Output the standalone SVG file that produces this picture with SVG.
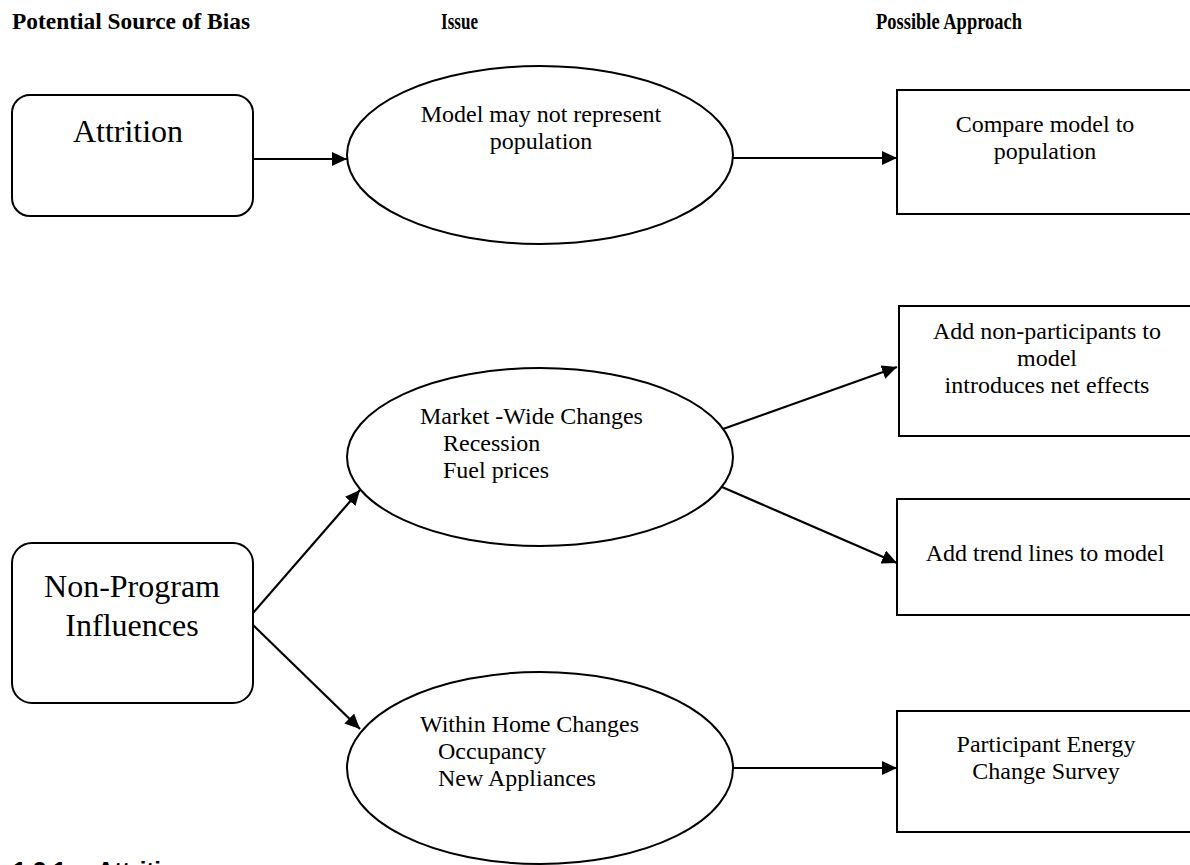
<svg xmlns="http://www.w3.org/2000/svg" width="1190" height="865" viewBox="0 0 1190 865">
<style>
  .hdr { font-family: "Liberation Serif", "Times New Roman", serif; font-weight: bold; font-size: 24px; fill: #000; }
  .big { font-family: "Liberation Serif", "Times New Roman", serif; font-size: 32px; fill: #000; }
  .txt { font-family: "Liberation Serif", "Times New Roman", serif; font-size: 24px; fill: #000; }
  .sec { font-family: "Liberation Sans", Arial, sans-serif; font-weight: bold; font-size: 24px; fill: #000; }
  .shape { fill: #fff; stroke: #000; stroke-width: 2; }
  .conn { stroke: #000; stroke-width: 2.2; fill: none; marker-end: url(#arr); }
</style>
<defs>
  <marker id="arr" markerUnits="userSpaceOnUse" markerWidth="16" markerHeight="14" refX="15" refY="7" orient="auto">
    <path d="M0,0 L15,7 L0,14 Z" fill="#000"/>
  </marker>
</defs>
<rect width="1190" height="865" fill="#fff"/>

<g id="headers">
  <text class="hdr" x="12" y="29" textLength="238" lengthAdjust="spacingAndGlyphs">Potential Source of Bias</text>
  <text class="hdr" x="441" y="29" textLength="37" lengthAdjust="spacingAndGlyphs">Issue</text>
  <text class="hdr" x="876" y="29" textLength="146" lengthAdjust="spacingAndGlyphs">Possible Approach</text>
</g>

<g id="connectors">
  <line class="conn" x1="253" y1="159" x2="347" y2="159"/>
  <line class="conn" x1="733" y1="158" x2="897" y2="158"/>
  <line class="conn" x1="253" y1="613" x2="360" y2="490"/>
  <line class="conn" x1="253" y1="625" x2="360" y2="729"/>
  <line class="conn" x1="723" y1="429" x2="897" y2="367"/>
  <line class="conn" x1="722" y1="487" x2="897" y2="563"/>
  <line class="conn" x1="733" y1="768" x2="897" y2="768"/>
</g>

<g id="attrition">
  <rect class="shape" x="12" y="95" width="241" height="121" rx="18"/>
  <text class="big" x="128" y="142" text-anchor="middle">Attrition</text>
</g>

<g id="non-program">
  <rect class="shape" x="12" y="543" width="241" height="160" rx="20"/>
  <text class="big" x="132" y="597" text-anchor="middle">Non-Program</text>
  <text class="big" x="132" y="636" text-anchor="middle">Influences</text>
</g>

<g id="issue-model">
  <ellipse class="shape" cx="540" cy="155" rx="193" ry="89"/>
  <text class="txt" x="541" y="122" text-anchor="middle">Model may not represent</text>
  <text class="txt" x="541" y="149" text-anchor="middle">population</text>
</g>

<g id="issue-market">
  <ellipse class="shape" cx="540" cy="457" rx="193" ry="89"/>
  <text class="txt" x="420" y="424">Market -Wide Changes</text>
  <text class="txt" x="443" y="451">Recession</text>
  <text class="txt" x="443" y="478">Fuel prices</text>
</g>

<g id="issue-home">
  <ellipse class="shape" cx="540" cy="768" rx="193" ry="96"/>
  <text class="txt" x="420" y="732">Within Home Changes</text>
  <text class="txt" x="438" y="759">Occupancy</text>
  <text class="txt" x="438" y="786">New Appliances</text>
</g>

<g id="approach-compare">
  <rect class="shape" x="897" y="90" width="310" height="124"/>
  <text class="txt" x="1045" y="132" text-anchor="middle">Compare model to</text>
  <text class="txt" x="1045" y="159" text-anchor="middle">population</text>
</g>

<g id="approach-nonpart">
  <rect class="shape" x="899" y="306" width="310" height="130"/>
  <text class="txt" x="1047" y="339" text-anchor="middle">Add non-participants to</text>
  <text class="txt" x="1047" y="366" text-anchor="middle">model</text>
  <text class="txt" x="1047" y="393" text-anchor="middle">introduces net effects</text>
</g>

<g id="approach-trend">
  <rect class="shape" x="897" y="499" width="310" height="116"/>
  <text class="txt" x="1045" y="561" text-anchor="middle">Add trend lines to model</text>
</g>

<g id="approach-survey">
  <rect class="shape" x="897" y="711" width="310" height="121"/>
  <text class="txt" x="1046" y="752" text-anchor="middle">Participant Energy</text>
  <text class="txt" x="1046" y="779" text-anchor="middle">Change Survey</text>
</g>

<g id="section-heading">
  <text class="sec" x="13" y="879">1.3.1</text>
  <text class="sec" x="97" y="879">Attrition</text>
</g>
</svg>
